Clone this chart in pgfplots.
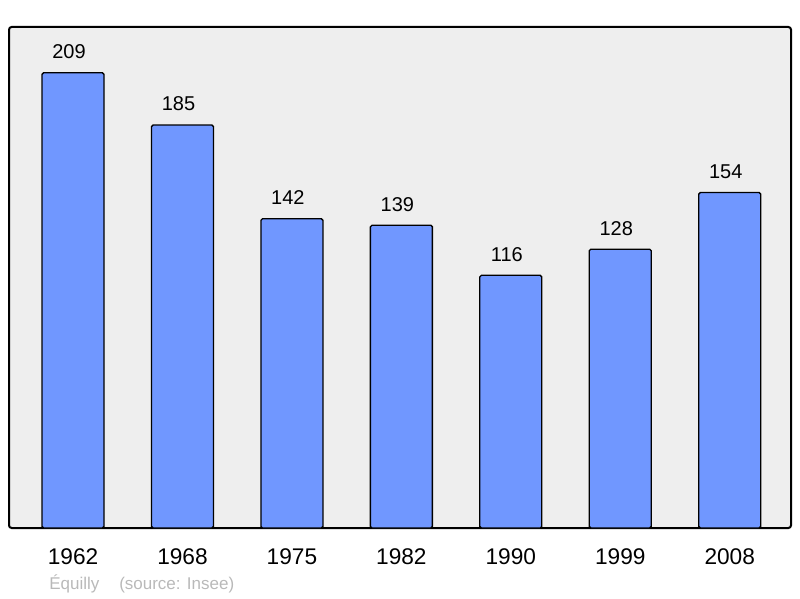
\documentclass[border=0pt]{standalone}
\usepackage{pgfplots}
\pgfplotsset{compat=1.18}
\usepackage{fontspec}
\setmainfont{Liberation Sans}
\definecolor{barfill}{RGB}{112,151,255}
\definecolor{panel}{RGB}{238,238,238}
\definecolor{foot}{RGB}{185,185,185}
\begin{document}
\begin{tikzpicture}
\begin{axis}[
  scale only axis,
  width=586.5pt, height=375.75pt,
  xmin=-0.585, xmax=6.56,
  ymin=0, ymax=230,
  ybar, bar width=46.5pt,
  axis background/.style={fill=panel},
  axis line style={line width=1.5pt, rounded corners=2pt},
  ytick=\empty,
  xtick=data,
  xticklabels={1962,1968,1975,1982,1990,1999,2008},
  major tick length=0pt,
  xticklabel style={anchor=center, yshift=-21.5pt, font=\fontsize{17}{20}\selectfont},
  /pgf/number format/assume math mode=true,
  nodes near coords,
  nodes near coords style={anchor=center, xshift=-3pt, yshift=15.75pt, font=\fontsize{15}{18}\selectfont},
  clip=false,
]
\addplot[fill=barfill, draw=black, line width=1pt, rounded corners=1.2pt] coordinates {
 (0,209) (1,185) (2,142) (3,139) (4,116) (5,128) (6,154)
};
\end{axis}
\node[anchor=base west, text=foot, font=\fontsize{12.75}{15}\selectfont, inner sep=0pt] at ([xshift=30pt,yshift=-45.75pt]current axis.south west) {Équilly};
\node[anchor=base west, text=foot, font=\fontsize{12.75}{15}\selectfont, inner sep=0pt] at ([xshift=82.5pt,yshift=-45.75pt]current axis.south west) {(source: Insee)};
\path ([xshift=-6.75pt,yshift=-52.5pt]current axis.south west) rectangle ([xshift=6.75pt,yshift=20.25pt]current axis.north east);
\end{tikzpicture}
\end{document}
